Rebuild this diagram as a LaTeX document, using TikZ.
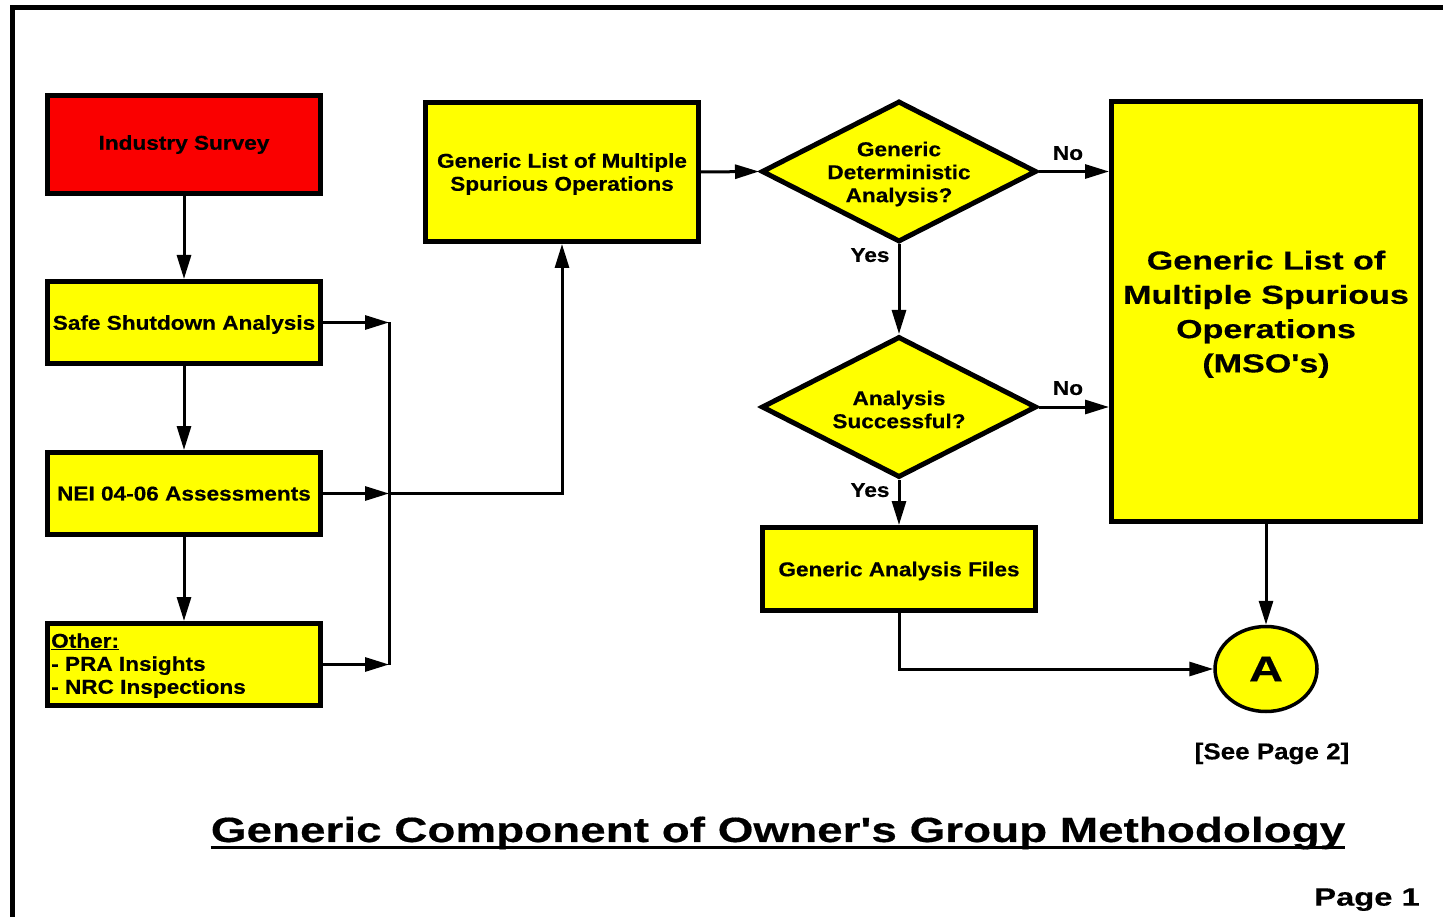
\documentclass[tikz,border=0pt]{standalone}
\usepackage{fontspec}
\newfontfamily\fa{Liberation Sans}[FakeStretch=1.13, BoldFeatures={FakeBold=0.4}]
\newfontfamily\fb{Liberation Sans}[FakeStretch=1.31, BoldFeatures={FakeBold=0.4}]
\usetikzlibrary{arrows.meta,shapes.geometric}
\definecolor{yel}{RGB}{255,255,0}
\definecolor{redbox}{RGB}{250,0,0}
\tikzset{
  box/.style={draw, line width=5pt, fill=yel, minimum width=273pt, inner sep=0pt, align=center, text depth=0pt,
    font=\fa\bfseries\fontsize{20pt}{23pt}\selectfont},
  dia/.style={diamond, draw, line width=5pt, fill=yel, minimum width=275pt, minimum height=141pt, inner sep=0pt},
  dtext/.style={align=center, yshift=-2.5pt, font=\fa\bfseries\fontsize{20pt}{23pt}\selectfont},
  lbl/.style={inner sep=0pt, text depth=0pt, font=\fa\bfseries\fontsize{20pt}{23pt}\selectfont},
  conn/.style={line width=3pt, -{Triangle[length=24pt,width=14pt]}},
  wire/.style={line width=3pt},
}
\begin{document}
\begin{tikzpicture}[x=1pt,y=-1pt]
\useasboundingbox (0,0) rectangle (1443,917);
% frame
\draw[line width=5pt] (12.5,917) -- (12.5,8) -- (1443,8);

% left column
\node[box, fill=redbox, minimum height=98pt, text depth=4pt] (is) at (184,144.5) {Industry Survey};
\node[box, minimum height=82pt] (ssa) at (184,322.5) {Safe Shutdown Analysis};
\node[box, minimum height=82pt] (nei) at (184,493.5) {NEI 04-06 Assessments};
\node[box, minimum height=82pt] (oth) at (184,664.5) {};
\node[lbl, anchor=west, align=left] (othtext) at (51,663.5) {\underline{Other:}\\- PRA Insights\\- NRC Inspections};

% middle
\node[box, minimum height=139pt] (gl) at (562,172) {Generic List of Multiple\\Spurious Operations};
\node[dia, label={[dtext]center:Generic\\Deterministic\\Analysis?}] (d1) at (899,171.5) {};
\node[dia, label={[dtext]center:Analysis\\Successful?}] (d2) at (899,407) {};
\node[box, minimum height=83pt] (gaf) at (899,569) {Generic Analysis Files};

% right
\node[box, minimum width=309pt, minimum height=419pt, font=\fb\bfseries\fontsize{26pt}{34.3pt}\selectfont] (mso) at (1266,311.5)
  {Generic List of\\Multiple Spurious\\Operations\\(MSO's)};
\node[ellipse, draw, line width=3.5pt, fill=yel, minimum width=102pt, minimum height=85pt, inner sep=0pt, text depth=0pt,
  font=\fb\bfseries\fontsize{36pt}{40pt}\selectfont] (A) at (1266,669) {A};

% bus coordinates
\coordinate (b1) at (389,322.5);
\coordinate (b2) at (389,493.5);
\coordinate (b3) at (389,664.5);

% connectors
\draw[conn] (is.south) -- (ssa.north);
\draw[conn] (ssa.south) -- (nei.north);
\draw[conn] (nei.south) -- (oth.north);
\draw[conn] (ssa.east) -- (b1);
\draw[conn] (nei.east) -- (b2);
\draw[conn] (oth.east) -- (b3);
\draw[wire] (b1) -- (b3);
\draw[conn] (b2) -| (gl.south);
\draw[conn] (gl.east) -- (d1.west);
\draw[conn] (d1.east) -- (d1.east -| mso.west);
\draw[conn] (d1.south) -- (d2.north);
\draw[conn] (d2.east) -- (d2.east -| mso.west);
\draw[conn] (d2.south) -- (gaf.north);
\draw[conn] (gaf.south) |- (A.west);
\draw[conn] (mso.south) -- (A.north);

% labels
\node[lbl] (no1) at (1068,153) {No};
\node[lbl] (no2) at (1068,388) {No};
\node[lbl] (yes1) at (870,255) {Yes};
\node[lbl] (yes2) at (870,490) {Yes};

\node[inner sep=0pt, text depth=0pt, font=\fa\bfseries\fontsize{23pt}{26pt}\selectfont] (see) at (1272,751) {[See Page 2]};
\node[inner sep=0pt, font=\fb\bfseries\fontsize{35pt}{40pt}\selectfont] (title) at (778,833) {Generic Component of Owner's Group Methodology};
\draw[line width=3pt] ([yshift=-6pt]title.base west) -- ([yshift=-6pt]title.base east);
\node[inner sep=0pt, text depth=0pt, font=\fb\bfseries\fontsize{25pt}{30pt}\selectfont] (page) at (1367,897) {Page 1};
\end{tikzpicture}
\end{document}
